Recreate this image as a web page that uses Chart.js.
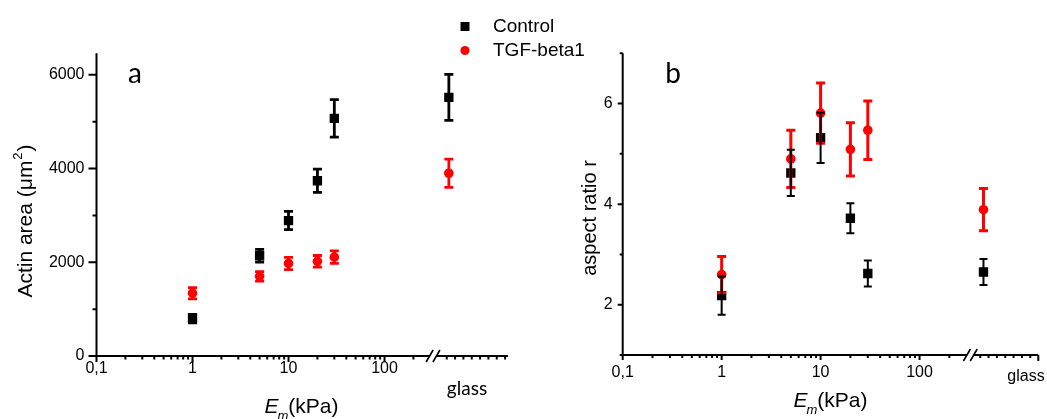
<!DOCTYPE html>
<html>
<head>
<meta charset="utf-8">
<title>Actin area and aspect ratio vs substrate stiffness</title>
<script src="https://cdn.jsdelivr.net/npm/chart.js@4.4.1/dist/chart.umd.min.js"></script>
<style>
  html, body { margin: 0; padding: 0; background: #fff; }
  #wrap { position: relative; width: 1047px; height: 419px; }
  #wrap canvas { position: absolute; left: 0; top: 0; }
</style>
</head>
<body>
<div id="wrap">
  <canvas id="areaChart" width="1047" height="419"></canvas>
  <canvas id="ratioChart" width="1047" height="419"></canvas>
</div>
<script>
// ── Data ─────────────────────────────────────────────────────────────────────
// Substrate stiffness E_m in kPa; the last entry is the glass substrate.
const STIFFNESS = [1, 5, 10, 20, 30, 'glass'];
const SERIES_NAMES = ['Control', 'TGF-beta1'];

// (a) actin area, µm², mean and error
const AREA_CONTROL     = [800, 2140, 2890, 3740, 5070, 5520];
const AREA_CONTROL_ERR = [90, 135, 195, 250, 400, 490];
const AREA_TGF         = [1340, 1700, 1975, 2020, 2110, 3900];
const AREA_TGF_ERR     = [120, 100, 130, 125, 135, 300];

// (b) aspect ratio r, mean and error
const RATIO_CONTROL     = [2.18, 4.62, 5.32, 3.72, 2.62, 2.65];
const RATIO_CONTROL_ERR = [0.38, 0.46, 0.50, 0.30, 0.26, 0.26];
const RATIO_TGF         = [2.60, 4.90, 5.81, 5.09, 5.47, 3.89];
const RATIO_TGF_ERR     = [0.36, 0.57, 0.60, 0.53, 0.58, 0.42];

// Axis ticks
const X_TICK_VALUES = [0.1, 1, 10, 100];
const X_TICK_LABELS = ['0,1', '1', '10', '100'];
const AREA_TICKS  = [0, 2000, 4000, 6000];
const RATIO_TICKS = [2, 4, 6];

// ── Panel geometry ───────────────────────────────────────────────────────────
// x axis runs in log10 units; past the break there is a short "glass" segment
const PANEL_A = {
  left: 96.5, right: 508, top: 53.3, bottom: 356,
  xMax: 3.286, breakAt: 2.505, glassAt: 2.67,
  glassTickStart: 2.648, glassTickStep: 0.0868, endTick: false,
  yMin: 0, yMax: 6460, yMinor: 1000, yMajorLen: 8, yMinorLen: 4,
  xMajorLen: 6, xMinorLen: 3.5, yLabelGap: 12, fontSize: 16,
};
const PANEL_B = {
  left: 622.7, right: 1038.3, top: 53.3, bottom: 355,
  xMax: 3.2, breakAt: 2.513, glassAt: 2.646,
  glassTickStart: 2.613, glassTickStep: 0.0843, endTick: true,
  yMin: 1, yMax: 7, yMinor: 1, yMajorLen: 5, yMinorLen: 3,
  xMajorLen: 5, xMinorLen: 3, yLabelGap: 10, fontSize: 16,
};

const BLACK = '#000000';
const RED   = '#ff0000';
const ARIAL = '"Liberation Sans", Arial, sans-serif';
const CALIBRI_LIKE = 'Lato, "Open Sans", sans-serif';

/** Position of a stiffness value on the (log) x axis */
function xPos(e, panel) {
  return e === 'glass' ? panel.glassAt : Math.log10(e);
}

function points(values, panel) {
  return values.map((v, i) => ({ x: xPos(STIFFNESS[i], panel), y: v }));
}

// ── Plugins ──────────────────────────────────────────────────────────────────

// Vertical error bars with caps, drawn from each dataset's `errors` array
const errorBarPlugin = {
  id: 'errorBars',
  afterDatasetsDraw(chart) {
    const { ctx, scales: { y } } = chart;
    // TGF bars first so the control caps sit on top
    for (let i = chart.data.datasets.length - 1; i >= 0; i--) {
      const ds = chart.data.datasets[i];
      const meta = chart.getDatasetMeta(i);
      ctx.save();
      ctx.strokeStyle = ds.backgroundColor;
      ctx.lineWidth = ds.errorWidth;
      meta.data.forEach((pt, j) => {
        const v = ds.data[j].y, e = ds.errors[j];
        const top = y.getPixelForValue(v + e);
        const bot = y.getPixelForValue(v - e);
        const cap = ds.capHalf;
        ctx.beginPath();
        ctx.moveTo(pt.x, top); ctx.lineTo(pt.x, bot);
        ctx.moveTo(pt.x - cap, top); ctx.lineTo(pt.x + cap, top);
        ctx.moveTo(pt.x - cap, bot); ctx.lineTo(pt.x + cap, bot);
        ctx.stroke();
      });
      ctx.restore();
    }
  }
};

// Axis lines, log minor ticks, the axis break and the panel texts
const framePlugin = {
  id: 'frame',
  afterDraw(chart, args, opts) {
    const { ctx, scales: { x, y } } = chart;
    const p = opts.panel;
    const x0 = x.getPixelForValue(-1);
    const x1 = x.getPixelForValue(p.xMax);
    const y0 = y.getPixelForValue(p.yMin);
    const y1 = y.getPixelForValue(p.yMax);

    ctx.save();
    ctx.strokeStyle = BLACK;
    ctx.fillStyle = BLACK;
    ctx.lineWidth = 2;
    ctx.lineCap = 'butt';

    // y axis line and ticks
    ctx.beginPath();
    ctx.moveTo(x0, y1); ctx.lineTo(x0, y0 + 1);
    for (let v = p.yMin; v <= p.yMax; v += p.yMinor) {
      const py = y.getPixelForValue(v);
      const len = opts.yTicks.includes(v) ? p.yMajorLen : p.yMinorLen;
      ctx.moveTo(x0, py); ctx.lineTo(x0 - len, py);
    }
    ctx.stroke();

    // x axis in two parts around the break
    const bx = x.getPixelForValue(p.breakAt);
    ctx.beginPath();
    ctx.moveTo(x0 - 1, y0); ctx.lineTo(bx - 3.5, y0);
    ctx.moveTo(bx + 3.5, y0); ctx.lineTo(x1, y0);
    // decade and minor ticks before the break
    for (let n = -1; n <= 2; n++) {
      for (let k = 1; k <= 9; k++) {
        const v = Math.log10(k) + n;
        if (v > p.breakAt - 0.08) continue;
        const px = x.getPixelForValue(v);
        const len = k === 1 ? p.xMajorLen : p.xMinorLen;
        ctx.moveTo(px, y0); ctx.lineTo(px, y0 + len);
      }
    }
    // evenly spaced ticks of the glass segment
    for (let v = p.glassTickStart; v <= p.xMax + 1e-6; v += p.glassTickStep) {
      const px = x.getPixelForValue(v);
      ctx.moveTo(px, y0); ctx.lineTo(px, y0 + p.xMinorLen);
    }
    if (p.endTick) {
      ctx.moveTo(x1, y0); ctx.lineTo(x1, y0 + p.xMajorLen + 1);
    }
    ctx.stroke();

    // break marks //
    ctx.lineWidth = 1.6;
    ctx.beginPath();
    [-3.4, 3.4].forEach(dx => {
      ctx.moveTo(bx + dx - 3.5, y0 + 6);
      ctx.lineTo(bx + dx + 3.5, y0 - 6);
    });
    ctx.stroke();

    // x axis title: E_m(kPa)
    const t = opts.xTitle;
    ctx.textBaseline = 'middle';
    ctx.textAlign = 'left';
    ctx.font = `italic 21px ${ARIAL}`;
    const wE = ctx.measureText('E').width;
    ctx.font = `italic 13px ${ARIAL}`;
    const wm = ctx.measureText('m').width;
    ctx.font = `21px ${ARIAL}`;
    const wk = ctx.measureText('(kPa)').width;
    let sx = t.x - (wE + wm + wk) / 2;
    ctx.font = `italic 21px ${ARIAL}`;
    ctx.fillText('E', sx, t.y);
    ctx.font = `italic 13px ${ARIAL}`;
    ctx.fillText('m', sx + wE - 1, t.y + 9);
    ctx.font = `21px ${ARIAL}`;
    ctx.fillText('(kPa)', sx + wE + wm - 1, t.y);

    // y axis title (rotated), optional superscript
    const yt = opts.yTitle;
    ctx.save();
    ctx.translate(yt.x, yt.y);
    ctx.rotate(-Math.PI / 2);
    ctx.font = `${yt.size}px ${ARIAL}`;
    const w1 = ctx.measureText(yt.text).width;
    let w2 = 0, w3 = 0;
    if (yt.sup) {
      ctx.font = `13px ${ARIAL}`;
      w2 = ctx.measureText(yt.sup).width;
      ctx.font = `${yt.size}px ${ARIAL}`;
      w3 = ctx.measureText(yt.tail).width;
    }
    let tx = -(w1 + w2 + w3) / 2;
    ctx.fillText(yt.text, tx, 0);
    if (yt.sup) {
      ctx.font = `13px ${ARIAL}`;
      ctx.fillText(yt.sup, tx + w1 + 1, -8);
      ctx.font = `${yt.size}px ${ARIAL}`;
      ctx.fillText(yt.tail, tx + w1 + w2 + 2, 0);
    }
    ctx.restore();

    // "glass" label under the glass segment
    const g = opts.glassLabel;
    ctx.textAlign = 'center';
    ctx.font = g.font;
    ctx.fillText('glass', g.x, g.y);

    // panel letter
    const l = opts.letter;
    ctx.font = `28px ${CALIBRI_LIKE}`;
    ctx.fillText(l.text, l.x, l.y);

    ctx.restore();
  }
};

// Legend shared by both panels, drawn between them
const legendPlugin = {
  id: 'sharedLegend',
  afterDraw(chart, args, opts) {
    if (!opts.show) return;
    const { ctx } = chart;
    ctx.save();
    ctx.font = `19px ${ARIAL}`;
    ctx.textBaseline = 'middle';
    ctx.textAlign = 'left';
    chart.data.datasets.forEach((ds, i) => {
      const cy = opts.y + i * opts.rowGap;
      ctx.fillStyle = ds.backgroundColor;
      ctx.beginPath();
      if (ds.pointStyle === 'rect') {
        ctx.rect(opts.x - 4.5, cy - 4.5, 9, 9);
      } else {
        ctx.arc(opts.x, cy, 4.6, 0, Math.PI * 2);
      }
      ctx.fill();
      ctx.fillStyle = BLACK;
      ctx.fillText(ds.label, opts.textX, cy);
    });
    ctx.restore();
  }
};

// ── Chart factory ────────────────────────────────────────────────────────────

function makeDatasets(panel, control, controlErr, tgf, tgfErr, widths) {
  return [
    {
      label: SERIES_NAMES[0],
      data: points(control, panel),
      errors: controlErr,
      pointStyle: 'rect',
      pointRadius: 6.6,
      backgroundColor: BLACK,
      borderWidth: 0,
      errorWidth: widths.control,
      capHalf: widths.controlCap,
    },
    {
      label: SERIES_NAMES[1],
      data: points(tgf, panel),
      errors: tgfErr,
      pointStyle: 'circle',
      pointRadius: 4.8,
      backgroundColor: RED,
      borderWidth: 0,
      errorWidth: widths.tgf,
      capHalf: widths.tgfCap,
    },
  ];
}

function makeChart(canvasId, panel, datasets, yTicks, extra) {
  const W = 1047, H = 419;
  return new Chart(document.getElementById(canvasId), {
    type: 'scatter',
    data: { datasets },
    options: {
      responsive: false,
      animation: false,
      events: [],
      layout: {
        autoPadding: false,
        padding: {
          left: panel.left - extra.yAxisWidth,
          right: W - panel.right,
          top: panel.top,
          bottom: 0,
        },
      },
      scales: {
        x: {
          type: 'linear',
          min: -1,
          max: panel.xMax,
          afterBuildTicks: s => { s.ticks = X_TICK_VALUES.map(v => ({ value: Math.log10(v) })); },
          afterFit: s => { s.height = H - panel.bottom; },
          grid: { display: false, drawTicks: false },
          border: { display: false },
          ticks: {
            padding: extra.xLabelPad,
            maxRotation: 0,
            autoSkip: false,
            color: BLACK,
            font: { family: ARIAL, size: panel.fontSize },
            callback: (v, i) => X_TICK_LABELS[i],
          },
        },
        y: {
          type: 'linear',
          min: panel.yMin,
          max: panel.yMax,
          afterBuildTicks: s => { s.ticks = yTicks.map(v => ({ value: v })); },
          afterFit: s => { s.width = extra.yAxisWidth; },
          grid: { display: false, drawTicks: false },
          border: { display: false },
          ticks: {
            padding: panel.yLabelGap,
            color: BLACK,
            font: { family: ARIAL, size: panel.fontSize },
            callback: v => String(v),
          },
        },
      },
      plugins: {
        legend: { display: false },
        tooltip: { enabled: false },
        frame: Object.assign({ panel, yTicks }, extra.frame),
        sharedLegend: extra.legend || { show: false },
      },
    },
    plugins: [errorBarPlugin, framePlugin, legendPlugin],
  });
}

// ── Panels ───────────────────────────────────────────────────────────────────

makeChart(
  'areaChart',
  PANEL_A,
  makeDatasets(PANEL_A, AREA_CONTROL, AREA_CONTROL_ERR, AREA_TGF, AREA_TGF_ERR,
    { control: 2.8, controlCap: 4.5, tgf: 2.8, tgfCap: 4.5 }),
  AREA_TICKS,
  {
    yAxisWidth: 96.5,
    xLabelPad: 3,
    frame: {
      xTitle: { x: 302, y: 407 },
      yTitle: { x: 26, y: 222, size: 21, text: 'Actin area (\u03bcm', sup: '2', tail: ')' },
      glassLabel: { x: 467, y: 389, font: `19px ${CALIBRI_LIKE}` },
      letter: { text: 'a', x: 135, y: 74 },
    },
    legend: { show: true, x: 465, y: 26.5, rowGap: 24, textX: 493 },
  }
);

makeChart(
  'ratioChart',
  PANEL_B,
  makeDatasets(PANEL_B, RATIO_CONTROL, RATIO_CONTROL_ERR, RATIO_TGF, RATIO_TGF_ERR,
    { control: 2, controlCap: 4, tgf: 3, tgfCap: 4.5 }),
  RATIO_TICKS,
  {
    yAxisWidth: 100,
    xLabelPad: 8,
    frame: {
      xTitle: { x: 831, y: 401 },
      yTitle: { x: 590, y: 218, size: 20, text: 'aspect ratio r' },
      glassLabel: { x: 1026, y: 377, font: `16px ${ARIAL}` },
      letter: { text: 'b', x: 673, y: 74 },
    },
  }
);
</script>
</body>
</html>
